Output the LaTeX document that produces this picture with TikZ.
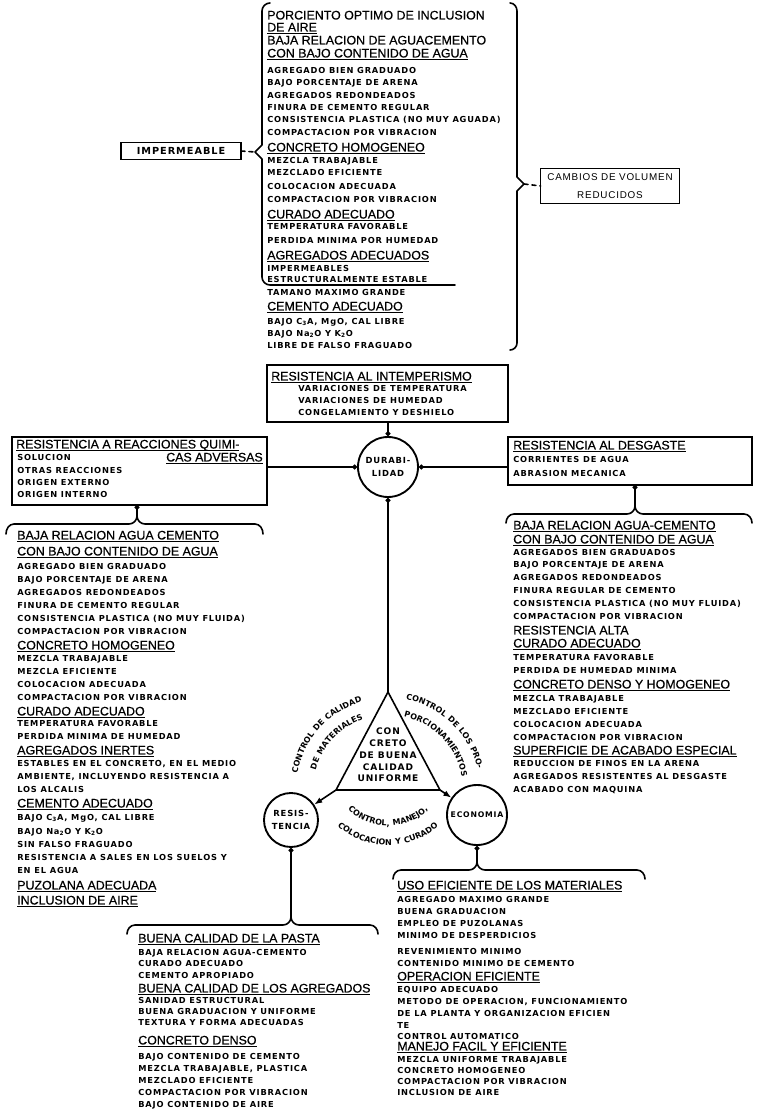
\documentclass[tikz,border=0pt]{standalone}
\usepackage{fontspec}
\setmainfont{Liberation Sans}
\newfontfamily\smfam[LetterSpace=10]{DejaVu Sans Bold}
\newfontfamily\hdfam[FakeBold=0.6]{Liberation Sans}
\newfontfamily\medfam[LetterSpace=8]{Liberation Sans}
\usetikzlibrary{arrows.meta,fit,decorations.text}
\newcommand\hul[1]{\setbox0\hbox{#1}\rlap{\raisebox{-1.7pt}{\rule{\wd0}{0.7pt}}}\box0}
\newcommand\arcf{\smfam\fontsize{6pt}{7pt}\selectfont}
\tikzset{
  sm/.style={font=\smfam\fontsize{6.2pt}{7pt}\selectfont, inner sep=0pt, anchor=west, text height=4.6pt, text depth=0pt},
  hd/.style={font=\hdfam\fontsize{9.3pt}{11pt}\selectfont, inner sep=0pt, anchor=west, text height=6.7pt, text depth=0pt},
  ln/.style={line width=1.2pt, line cap=round, line join=round},
  box/.style={draw, line width=1.2pt, inner sep=0pt, outer sep=0pt},
  circ/.style={draw, circle, line width=1.4pt, inner sep=0pt, align=center, font=\smfam\fontsize{6.3pt}{10pt}\selectfont},
  dot/.style={{Circle[length=3.6pt]}-},
  arctext/.style={decorate, decoration={text along path, text align=center, text={#1}}},
}
\begin{document}
\begin{tikzpicture}[x=0.75pt,y=-0.75pt]
\useasboundingbox (0,0) rectangle (756,1116);
\fill[white] (0,0) rectangle (756,1116);

% ---------------- top block ----------------
\coordinate (tipL) at (255,152);
\coordinate (tipR) at (524,184);
\draw[ln] (270,3) to[out=180,in=90] (262,11) -- (262,145) -- (tipL) -- (262,159) -- (262,277) to[out=270,in=180] (270,285) -- (455,285);
\draw[ln] (510,3) to[out=0,in=90] (517,11) -- (517,177) -- (tipR) -- (517,191) -- (517,343) to[out=270,in=0] (510,350);

\node[box, minimum width=90pt, minimum height=12.75pt, font=\smfam\fontsize{7.3pt}{9pt}\selectfont] (imp) at (181,151) {IMPERMEABLE};
\draw[ln,dashed] (imp.east) -- (tipL);
\node[box, minimum width=104pt, minimum height=26pt, align=center, font=\medfam\fontsize{7.4pt}{13.5pt}\selectfont] (cam) at (610,186) {CAMBIOS DE VOLUMEN\\REDUCIDOS};
\draw[ln,dashed] (tipR) -- (cam.west);

\foreach \yy/\tx [count=\i] in {15/{PORCIENTO OPTIMO DE INCLUSION}, 27/{\hul{DE AIRE}}, 40/{BAJA RELACION DE AGUACEMENTO}, 53/{\hul{CON BAJO CONTENIDO DE AGUA}}, 147/{\hul{CONCRETO HOMOGENEO}}, 214/{\hul{CURADO ADECUADO}}, 255/{\hul{AGREGADOS ADECUADOS}}, 306/{\hul{CEMENTO ADECUADO}}}
  {\node[hd] (th\i) at (267,\yy) {\tx};}
\foreach \yy/\tx [count=\i] in {70/{AGREGADO BIEN GRADUADO}, 82/{BAJO PORCENTAJE DE ARENA}, 95/{AGREGADOS REDONDEADOS}, 107/{FINURA DE CEMENTO REGULAR}, 119/{CONSISTENCIA PLASTICA (NO MUY AGUADA)}, 132/{COMPACTACION POR VIBRACION}, 160/{MEZCLA TRABAJABLE}, 172/{MEZCLADO EFICIENTE}, 186/{COLOCACION ADECUADA}, 199/{COMPACTACION POR VIBRACION}, 226/{TEMPERATURA FAVORABLE}, 240/{PERDIDA MINIMA POR HUMEDAD}, 268/{IMPERMEABLES}, 279/{ESTRUCTURALMENTE ESTABLE}, 292/{TAMANO MAXIMO GRANDE}, 321/{BAJO C\textsubscript{3}A, MgO, CAL LIBRE}, 333/{BAJO Na\textsubscript{2}O Y K\textsubscript{2}O}, 345/{LIBRE DE FALSO FRAGUADO}}
  {\node[sm] (ts\i) at (267,\yy) {\tx};}

% ---------------- intemperismo ----------------
\node[box, fit={(267,365) (508,422)}] (int) {};
\node[hd] (ih) at (271,376) {\hul{RESISTENCIA AL INTEMPERISMO}};
\foreach \yy/\tx [count=\i] in {388/{VARIACIONES DE TEMPERATURA}, 400/{VARIACIONES DE HUMEDAD}, 412/{CONGELAMIENTO Y DESHIELO}}
  {\node[sm] (is\i) at (298,\yy) {\tx};}

% ---------------- durabilidad ----------------
\node[circ, minimum size=45pt] (dur) at (388,467) {DURABI-\\LIDAD};
\draw[ln,dot] (dur.north) -- (int.south -| dur.north);

\node[box, fit={(12,437) (267,505)}] (reac) {};
\node[hd] (rh1) at (16,444) {\hul{RESISTENCIA A REACCIONES QUIMI-}};
\node[hd, anchor=east] (rh2) at (263,457) {\hul{CAS ADVERSAS}};
\foreach \yy/\tx [count=\i] in {457/{SOLUCION}, 470/{OTRAS REACCIONES}, 482/{ORIGEN EXTERNO}, 494/{ORIGEN INTERNO}}
  {\node[sm] (rs\i) at (17,\yy) {\tx};}
\draw[ln,dot] (dur.west) -- (dur.west -| reac.east);

\node[box, fit={(508,437) (752,485)}] (des) {};
\node[hd] (dh) at (513,445) {\hul{RESISTENCIA AL DESGASTE}};
\foreach \yy/\tx [count=\i] in {459/{CORRIENTES DE AGUA}, 473/{ABRASION MECANICA}}
  {\node[sm] (ds\i) at (513,\yy) {\tx};}
\draw[ln,dot] (dur.east) -- (dur.east -| des.west);

% ---------------- left brace + block ----------------
\coordinate (lbp) at (137,516);
\draw[ln,dot] (reac.south -| lbp) -- (lbp);
\draw[ln] (6,534) to[out=90,in=180] (14,524) -- (129,524) to[out=0,in=270] (lbp) to[out=270,in=180] (145,524) -- (255,524) to[out=0,in=90] (263,534);
\foreach \yy/\tx [count=\i] in {535/{\hul{BAJA RELACION AGUA CEMENTO}}, 551/{\hul{CON BAJO CONTENIDO DE AGUA}}, 645/{\hul{CONCRETO HOMOGENEO}}, 711/{\hul{CURADO ADECUADO}}, 750/{\hul{AGREGADOS INERTES}}, 803/{\hul{CEMENTO ADECUADO}}, 885/{\hul{PUZOLANA ADECUADA}}, 900/{\hul{INCLUSION DE AIRE}}}
  {\node[hd] (lh\i) at (17,\yy) {\tx};}
\foreach \yy/\tx [count=\i] in {566/{AGREGADO BIEN GRADUADO}, 579/{BAJO PORCENTAJE DE ARENA}, 592/{AGREGADOS REDONDEADOS}, 605/{FINURA DE CEMENTO REGULAR}, 618/{CONSISTENCIA PLASTICA (NO MUY FLUIDA)}, 631/{COMPACTACION POR VIBRACION}, 658/{MEZCLA TRABAJABLE}, 671/{MEZCLA EFICIENTE}, 684/{COLOCACION ADECUADA}, 697/{COMPACTACION POR VIBRACION}, 723/{TEMPERATURA FAVORABLE}, 736/{PERDIDA MINIMA DE HUMEDAD}, 763/{ESTABLES EN EL CONCRETO, EN EL MEDIO}, 776/{AMBIENTE, INCLUYENDO RESISTENCIA A}, 789/{LOS ALCALIS}, 817/{BAJO C\textsubscript{3}A, MgO, CAL LIBRE}, 831/{BAJO Na\textsubscript{2}O Y K\textsubscript{2}O}, 844/{SIN FALSO FRAGUADO}, 857/{RESISTENCIA A SALES EN LOS SUELOS Y}, 870/{EN EL AGUA}}
  {\node[sm] (ls\i) at (17,\yy) {\tx};}

% ---------------- right brace + block ----------------
\coordinate (dbp) at (635,506);
\draw[ln,dot] (des.south -| dbp) -- (dbp);
\draw[ln] (506,523) to[out=90,in=180] (514,514) -- (627,514) to[out=0,in=270] (dbp) to[out=270,in=180] (643,514) -- (744,514) to[out=0,in=90] (752,523);
\foreach \yy/\tx [count=\i] in {525/{\hul{BAJA RELACION AGUA-CEMENTO}}, 539/{\hul{CON BAJO CONTENIDO DE AGUA}}, 630/{RESISTENCIA ALTA}, 643/{\hul{CURADO ADECUADO}}, 684/{\hul{CONCRETO DENSO Y HOMOGENEO}}, 750/{\hul{SUPERFICIE DE ACABADO ESPECIAL}}}
  {\node[hd] (rh\i) at (513,\yy) {\tx};}
\foreach \yy/\tx [count=\i] in {552/{AGREGADOS BIEN GRADUADOS}, 564/{BAJO PORCENTAJE DE ARENA}, 577/{AGREGADOS REDONDEADOS}, 590/{FINURA REGULAR DE CEMENTO}, 603/{CONSISTENCIA PLASTICA (NO MUY FLUIDA)}, 616/{COMPACTACION POR VIBRACION}, 657/{TEMPERATURA FAVORABLE}, 670/{PERDIDA DE HUMEDAD MINIMA}, 698/{MEZCLA TRABAJABLE}, 711/{MEZCLADO EFICIENTE}, 724/{COLOCACION ADECUADA}, 737/{COMPACTACION POR VIBRACION}, 763/{REDUCCION DE FINOS EN LA ARENA}, 776/{AGREGADOS RESISTENTES AL DESGASTE}, 789/{ACABADO CON MAQUINA}}
  {\node[sm] (rr\i) at (513,\yy) {\tx};}

% ---------------- triangle and circles ----------------
\coordinate (ta) at (388,692);
\coordinate (tb) at (336,790);
\coordinate (tc) at (440,790);
\draw[ln] (ta) -- (tb) -- (tc) -- cycle;
\node[font=\smfam\fontsize{6.8pt}{8.8pt}\selectfont, align=center, inner sep=0pt] (tri) at (388,755) {CON\\CRETO\\DE BUENA\\CALIDAD\\UNIFORME};
\draw[ln,dot] (dur.south) -- (ta);

\node[circ, minimum size=40.5pt] (res) at (291,820) {RESIS-\\TENCIA};
\node[circ, minimum size=45pt, font=\smfam\fontsize{5.8pt}{8pt}\selectfont] (eco) at (477,815) {ECONOMIA};
\draw[ln,-{Latex[length=6pt,width=4.5pt]}] (tb) -- (res);
\draw[ln,-{Latex[length=6pt,width=4.5pt]}] (tc) -- (eco);

\path[arctext={|\arcf|CONTROL DE CALIDAD}] (388,790) ++(180:92) arc[start angle=180, end angle=264, radius=92];
\path[arctext={|\arcf|DE MATERIALES}] (388,790) ++(188:75) arc[start angle=188, end angle=258, radius=75];
\path[arctext={|\arcf|CONTROL DE LOS PRO-}] (388,790) ++(276:92) arc[start angle=276, end angle=352, radius=92];
\path[arctext={|\arcf|PORCIONAMIENTOS}] (388,790) ++(282:75) arc[start angle=282, end angle=350, radius=75];
\path[arctext={|\arcf|CONTROL, MANEJO,}] (388,768) ++(152:58) arc[start angle=152, end angle=28, radius=58];
\path[arctext={|\arcf|COLOCACION Y CURADO}] (388,768) ++(146:77) arc[start angle=146, end angle=34, radius=77];

% ---------------- bottom left ----------------
\coordinate (bbp) at (291,917);
\draw[ln,dot] (res.south) -- (bbp);
\draw[ln] (127,934) to[out=90,in=180] (135,925) -- (283,925) to[out=0,in=270] (bbp) to[out=270,in=180] (299,925) -- (370,925) to[out=0,in=90] (378,934);
\foreach \yy/\tx [count=\i] in {938/{\hul{BUENA CALIDAD DE LA PASTA}}, 988/{\hul{BUENA CALIDAD DE LOS AGREGADOS}}, 1040/{\hul{CONCRETO DENSO}}}
  {\node[hd] (bh\i) at (138,\yy) {\tx};}
\foreach \yy/\tx [count=\i] in {952/{BAJA RELACION AGUA-CEMENTO}, 963/{CURADO ADECUADO}, 975/{CEMENTO APROPIADO}, 1000/{SANIDAD ESTRUCTURAL}, 1011/{BUENA GRADUACION Y UNIFORME}, 1022/{TEXTURA Y FORMA ADECUADAS}, 1056/{BAJO CONTENIDO DE CEMENTO}, 1068/{MEZCLA TRABAJABLE, PLASTICA}, 1080/{MEZCLADO EFICIENTE}, 1092/{COMPACTACION POR VIBRACION}, 1104/{BAJO CONTENIDO DE AIRE}}
  {\node[sm] (bs\i) at (138,\yy) {\tx};}

% ---------------- bottom right ----------------
\coordinate (ubp) at (477,862);
\draw[ln,dot] (eco.south) -- (ubp);
\draw[ln] (393,879) to[out=90,in=180] (401,870) -- (469,870) to[out=0,in=270] (ubp) to[out=270,in=180] (485,870) -- (637,870) to[out=0,in=90] (645,879);
\foreach \yy/\tx [count=\i] in {885/{\hul{USO EFICIENTE DE LOS MATERIALES}}, 976/{\hul{OPERACION EFICIENTE}}, 1046/{\hul{MANEJO FACIL Y EFICIENTE}}}
  {\node[hd] (uh\i) at (397,\yy) {\tx};}
\foreach \yy/\tx [count=\i] in {899/{AGREGADO MAXIMO GRANDE}, 911/{BUENA GRADUACION}, 923/{EMPLEO DE PUZOLANAS}, 935/{MINIMO DE DESPERDICIOS}, 951/{REVENIMIENTO MINIMO}, 963/{CONTENIDO MINIMO DE CEMENTO}, 989/{EQUIPO ADECUADO}, 1001/{METODO DE OPERACION, FUNCIONAMIENTO}, 1013/{DE LA PLANTA Y ORGANIZACION EFICIEN}, 1025/{TE}, 1036/{CONTROL AUTOMATICO}, 1059/{MEZCLA UNIFORME TRABAJABLE}, 1070/{CONCRETO HOMOGENEO}, 1081/{COMPACTACION POR VIBRACION}, 1092/{INCLUSION DE AIRE}}
  {\node[sm] (us\i) at (397,\yy) {\tx};}
\end{tikzpicture}
\end{document}
